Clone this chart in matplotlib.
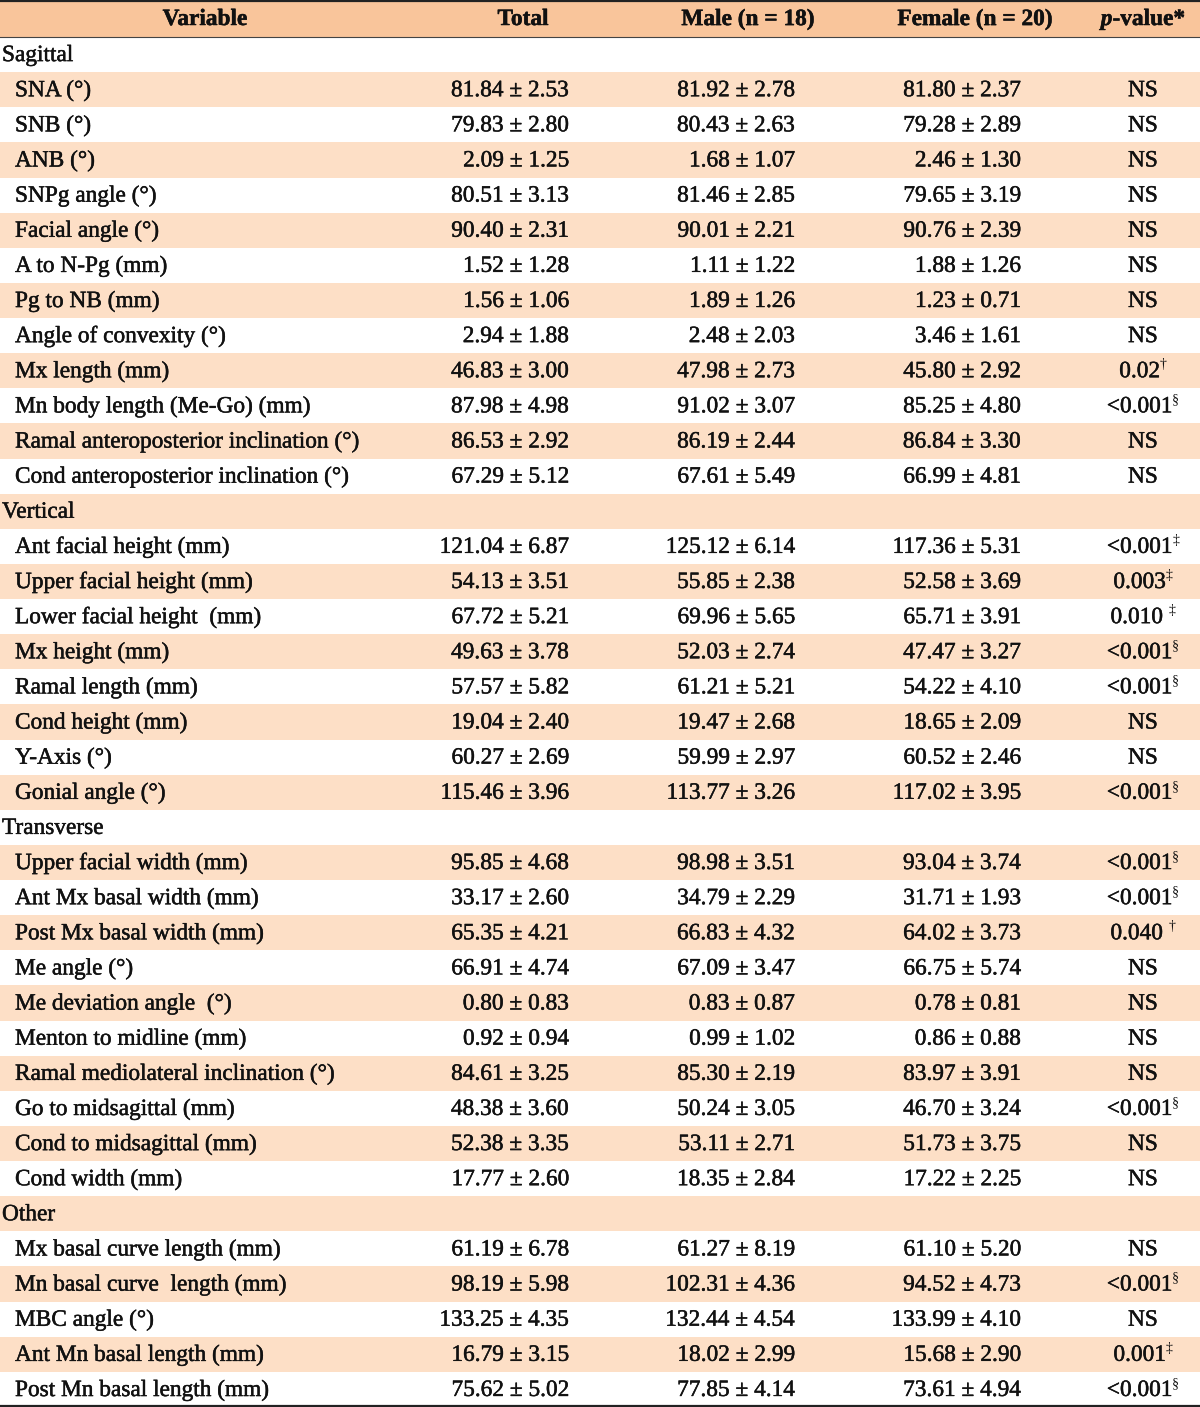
import matplotlib
matplotlib.use('Agg')
import matplotlib.pyplot as plt
from matplotlib.patches import Rectangle
import matplotlib.patheffects as pe

# table content
headers = ['Variable', 'Total', 'Male (n = 18)', 'Female (n = 20)']
sections = ['Sagittal'] * 12 + ['Vertical'] * 8 + ['Transverse'] * 10 + ['Other'] * 5
variables = [
    'SNA (°)', 'SNB (°)', 'ANB (°)', 'SNPg angle (°)', 'Facial angle (°)',
    'A to N-Pg (mm)', 'Pg to NB (mm)', 'Angle of convexity (°)', 'Mx length (mm)',
    'Mn body length (Me-Go) (mm)', 'Ramal anteroposterior inclination (°)',
    'Cond anteroposterior inclination (°)',
    'Ant facial height (mm)', 'Upper facial height (mm)', 'Lower facial height  (mm)',
    'Mx height (mm)', 'Ramal length (mm)', 'Cond height (mm)', 'Y-Axis (°)',
    'Gonial angle (°)',
    'Upper facial width (mm)', 'Ant Mx basal width (mm)', 'Post Mx basal width (mm)',
    'Me angle (°)', 'Me deviation angle  (°)', 'Menton to midline (mm)',
    'Ramal mediolateral inclination (°)', 'Go to midsagittal (mm)',
    'Cond to midsagittal (mm)', 'Cond width (mm)',
    'Mx basal curve length (mm)', 'Mn basal curve  length (mm)', 'MBC angle (°)',
    'Ant Mn basal length (mm)', 'Post Mn basal length (mm)',
]
total_mean = [81.84, 79.83, 2.09, 80.51, 90.40, 1.52, 1.56, 2.94, 46.83, 87.98, 86.53, 67.29,
              121.04, 54.13, 67.72, 49.63, 57.57, 19.04, 60.27, 115.46,
              95.85, 33.17, 65.35, 66.91, 0.80, 0.92, 84.61, 48.38, 52.38, 17.77,
              61.19, 98.19, 133.25, 16.79, 75.62]
total_sd = [2.53, 2.80, 1.25, 3.13, 2.31, 1.28, 1.06, 1.88, 3.00, 4.98, 2.92, 5.12,
            6.87, 3.51, 5.21, 3.78, 5.82, 2.40, 2.69, 3.96,
            4.68, 2.60, 4.21, 4.74, 0.83, 0.94, 3.25, 3.60, 3.35, 2.60,
            6.78, 5.98, 4.35, 3.15, 5.02]
male_mean = [81.92, 80.43, 1.68, 81.46, 90.01, 1.11, 1.89, 2.48, 47.98, 91.02, 86.19, 67.61,
             125.12, 55.85, 69.96, 52.03, 61.21, 19.47, 59.99, 113.77,
             98.98, 34.79, 66.83, 67.09, 0.83, 0.99, 85.30, 50.24, 53.11, 18.35,
             61.27, 102.31, 132.44, 18.02, 77.85]
male_sd = [2.78, 2.63, 1.07, 2.85, 2.21, 1.22, 1.26, 2.03, 2.73, 3.07, 2.44, 5.49,
           6.14, 2.38, 5.65, 2.74, 5.21, 2.68, 2.97, 3.26,
           3.51, 2.29, 4.32, 3.47, 0.87, 1.02, 2.19, 3.05, 2.71, 2.84,
           8.19, 4.36, 4.54, 2.99, 4.14]
female_mean = [81.80, 79.28, 2.46, 79.65, 90.76, 1.88, 1.23, 3.46, 45.80, 85.25, 86.84, 66.99,
               117.36, 52.58, 65.71, 47.47, 54.22, 18.65, 60.52, 117.02,
               93.04, 31.71, 64.02, 66.75, 0.78, 0.86, 83.97, 46.70, 51.73, 17.22,
               61.10, 94.52, 133.99, 15.68, 73.61]
female_sd = [2.37, 2.89, 1.30, 3.19, 2.39, 1.26, 0.71, 1.61, 2.92, 4.80, 3.30, 4.81,
             5.31, 3.69, 3.91, 3.27, 4.10, 2.09, 2.46, 3.95,
             3.74, 1.93, 3.73, 5.74, 0.81, 0.88, 3.91, 3.24, 3.75, 2.25,
             5.20, 4.73, 4.10, 2.90, 4.94]
p_value = ['NS', 'NS', 'NS', 'NS', 'NS', 'NS', 'NS', 'NS', '0.02', '<0.001', 'NS', 'NS',
           '<0.001', '0.003', '0.010 ', '<0.001', '<0.001', 'NS', 'NS', '<0.001',
           '<0.001', '<0.001', '0.040 ', 'NS', 'NS', 'NS', 'NS', '<0.001', 'NS', 'NS',
           'NS', '<0.001', 'NS', '0.001', '<0.001']
p_mark = ['', '', '', '', '', '', '', '', '†', '§', '', '',
          '‡', '‡', '‡', '§', '§', '', '', '§',
          '§', '§', '†', '', '', '', '', '§', '', '',
          '', '§', '', '‡', '§']

# build row list with section headings
rows = []
prev = None
for i, sec in enumerate(sections):
    if sec != prev:
        rows.append(('section', sec))
        prev = sec
    rows.append(('data', i))

W, H = 1200, 1407
fig = plt.figure(figsize=(W / 100, H / 100), dpi=100)
ax = fig.add_axes([0, 0, 1, 1])
ax.set_xlim(0, W)
ax.set_ylim(H, 0)
ax.axis('off')

plt.rcParams['font.family'] = 'Liberation Serif'
FS = 16.8
heavy = [pe.withStroke(linewidth=0.35, foreground='#111111')]
header_bg = '#F9C59B'
stripe_bg = '#FDDFC6'

header_h = 37
row_h = (H - header_h) / len(rows)

ax.add_patch(Rectangle((0, 0), W, header_h, color=header_bg, lw=0))
ax.plot([0, W], [1, 1], color='#222222', lw=1.6)
ax.plot([0, W], [header_h, header_h], color='#444444', lw=0.8)
ax.plot([0, W], [H - 1.5, H - 1.5], color='#222222', lw=1.6)


def txt(x, y, s, **kw):
    kw.setdefault('fontsize', FS)
    kw.setdefault('va', 'center')
    return ax.text(x, y, s, color='#111111', path_effects=heavy, **kw)


hy = header_h / 2 + 1
txt(205, hy, headers[0], ha='center', fontweight='bold')
txt(523, hy, headers[1], ha='center', fontweight='bold')
txt(748, hy, headers[2], ha='center', fontweight='bold')
txt(975, hy, headers[3], ha='center', fontweight='bold')

fig.canvas.draw()
renderer = fig.canvas.get_renderer()


def width_px(t):
    return t.get_window_extent(renderer).width


# p-value header: italic p + bold "-value*"
t1 = txt(0, hy, 'p', ha='left', fontweight='bold', style='italic')
t2 = txt(0, hy, '-value*', ha='left', fontweight='bold')
w1, w2 = width_px(t1), width_px(t2)
x0 = 1143 - (w1 + w2) / 2
t1.set_x(x0)
t2.set_x(x0 + w1)

for r, (kind, val) in enumerate(rows):
    top = header_h + r * row_h
    yc = top + row_h / 2 + 1
    if r % 2 == 1:
        ax.add_patch(Rectangle((0, top), W, row_h, color=stripe_bg, lw=0))
    if kind == 'section':
        txt(2, yc, val, ha='left')
        continue
    i = val
    txt(15, yc, variables[i], ha='left')
    txt(569, yc, f'{total_mean[i]:.2f} ± {total_sd[i]:.2f}', ha='right')
    txt(795, yc, f'{male_mean[i]:.2f} ± {male_sd[i]:.2f}', ha='right')
    txt(1021, yc, f'{female_mean[i]:.2f} ± {female_sd[i]:.2f}', ha='right')
    pm = txt(0, yc, p_value[i], ha='left')
    if p_mark[i]:
        sm = ax.text(0, yc - 7, p_mark[i], ha='left', va='center', fontsize=FS * 0.6,
                     color='#111111')
        wa, wb = width_px(pm), width_px(sm)
        xs = 1143 - (wa + wb) / 2
        pm.set_x(xs)
        sm.set_x(xs + wa)
    else:
        pm.set_x(1143)
        pm.set_ha('center')

fig.savefig('out.png', dpi=100)
